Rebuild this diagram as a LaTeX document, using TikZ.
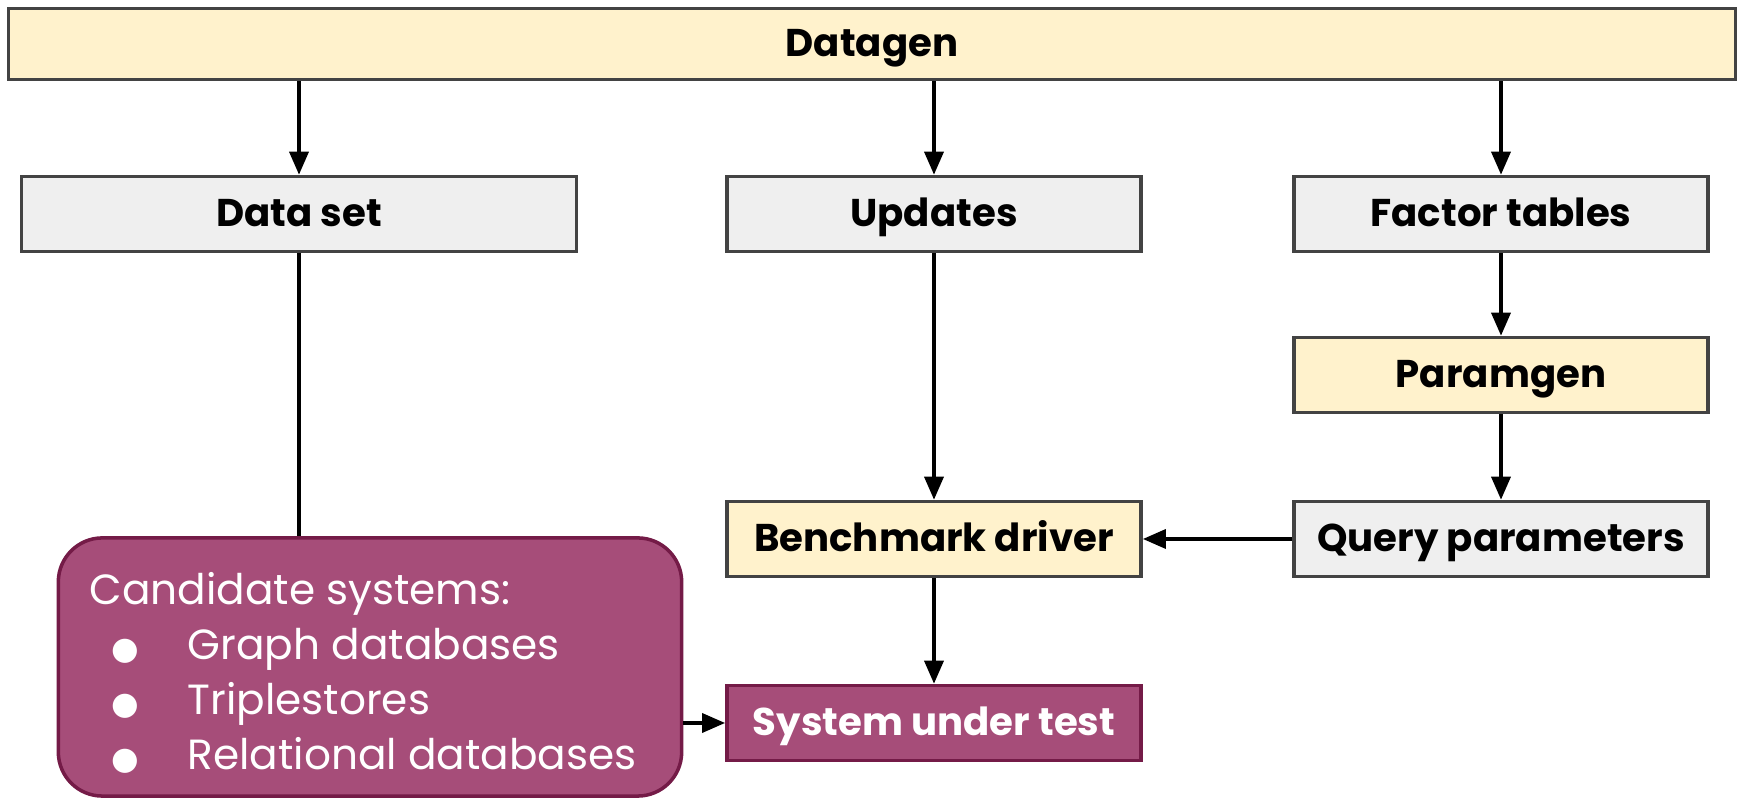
\documentclass[tikz,border=0pt]{standalone}
\usepackage{fontspec}
\setmainfont{Poppins}
\newfontfamily\dotfont{DejaVu Sans}
\usetikzlibrary{arrows.meta}
\definecolor{paleyellow}{HTML}{FFF2CC}
\definecolor{palegray}{HTML}{EFEFEF}
\definecolor{plum}{HTML}{A64D79}
\definecolor{darkplum}{HTML}{741B47}
\definecolor{edgegray}{HTML}{434343}
\newcommand{\itemdot}{\hspace*{0.22cm}\makebox[0.76cm][l]{\dotfont\fontsize{9}{9}\selectfont ●}}

\begin{document}
\begin{tikzpicture}[x=0.01cm, y=-0.01cm,
		box/.style={draw=edgegray, line width=1pt, minimum height=0.75cm,
			inner sep=0pt, text height=0.7em, text depth=0pt,
			font=\fontsize{11}{12}\selectfont\bfseries},
		genbox/.style={box, fill=paleyellow},
		filebox/.style={box, fill=palegray},
		sysbox/.style={box, fill=plum, draw=darkplum, text=white},
		flow/.style={-{Triangle[length=2.3mm,width=1.9mm]}, line width=1pt}]
		\useasboundingbox (0,0) rectangle (1741,798);
		% Generators and their outputs
		\node[genbox, minimum width=17.26cm, minimum height=0.71cm] (datagen) at (872,44) {Datagen};
		\node[filebox, minimum width=5.55cm] (dataset) at (299,214) {Data set};
		\node[filebox, minimum width=4.14cm] (updates) at (934,214) {Updates};
		\node[filebox, minimum width=4.14cm] (factors) at (1501,214) {Factor tables};
		\node[genbox, minimum width=4.14cm] (paramgen) at (1501,375) {Paramgen};
		\node[filebox, minimum width=4.14cm] (queryparams) at (1501,539) {Query parameters};
		% Driver and systems
		\node[genbox, minimum width=4.14cm] (driver) at (934,539) {Benchmark driver};
		\node[sysbox, minimum width=4.14cm] (sut) at (934,723) {System under test};
		\node[sysbox, rounded corners=0.44cm, minimum width=6.23cm, minimum height=2.58cm] (candidates) at (370,667) {};
		\node[anchor=north west, inner sep=0pt, text=white, align=left,
			font=\fontsize{12}{15.6}\selectfont] (candlist) at (89,572) {Candidate systems:\\
			\itemdot Graph databases\\
			\itemdot Triplestores\\
			\itemdot Relational databases};
		% Connectors
		\draw[flow] (dataset.north |- datagen.south) -- (dataset.north);
		\draw[flow] (updates.north |- datagen.south) -- (updates.north);
		\draw[flow] (factors.north |- datagen.south) -- (factors.north);
		\draw[line width=1pt] (dataset.south) -- (dataset.south |- candidates.north);
		\draw[flow] (updates) -- (driver);
		\draw[flow] (factors) -- (paramgen);
		\draw[flow] (paramgen) -- (queryparams);
		\draw[flow] (queryparams) -- (driver);
		\draw[flow] (driver) -- (sut);
		\draw[flow] (candidates.east |- sut) -- (sut);
	\end{tikzpicture}
\end{document}
